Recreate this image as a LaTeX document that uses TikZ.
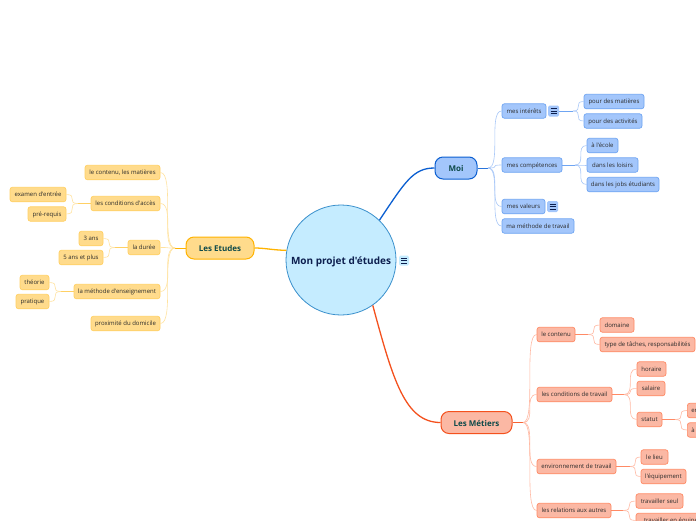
\documentclass[tikz,border=0pt]{standalone}
\usepackage{fontspec}
\setmainfont{Open Sans}[Ligatures=TeXOff]
\usetikzlibrary{calc}
\definecolor{rootfill}{HTML}{C5ECFF}\definecolor{rootline}{HTML}{3A90CC}\definecolor{rootink}{HTML}{0D1F4F}
\definecolor{bfill}{HTML}{A3C6FB}\definecolor{bline}{HTML}{0B5FD1}\definecolor{bsoft}{HTML}{6FA5F2}\definecolor{bpale}{HTML}{A9C8F8}
\definecolor{ofill}{HTML}{FFDB8C}\definecolor{oline}{HTML}{FFB300}\definecolor{osoft}{HTML}{FFD064}\definecolor{opale}{HTML}{FFE3A0}
\definecolor{rfill}{HTML}{FBB8A4}\definecolor{rline}{HTML}{F4511E}\definecolor{rsoft}{HTML}{FF8A65}\definecolor{rpale}{HTML}{FFB9A3}
\definecolor{kidink}{HTML}{2B2B2B}\definecolor{mainink}{HTML}{0E4A4A}
\tikzset{
  box/.style={rounded corners=2.5pt,line width=.7pt,inner sep=0pt,text=kidink,font=\fontsize{6}{7}\selectfont,anchor=center,minimum height=14.5pt,text height=6pt,text depth=1.5pt},
  bk/.style={box,fill=bfill,draw=bsoft},
  ok/.style={box,fill=ofill,draw=osoft},
  rk/.style={box,fill=rfill,draw=rsoft},
  mainb/.style={rounded corners=8pt,line width=1pt,inner sep=0pt,text=mainink,font=\fontsize{8}{9}\selectfont\bfseries,minimum height=22pt,text height=7pt,text depth=0pt},
  ic/.style={rounded corners=1.5pt,minimum width=11pt,minimum height=11pt,inner sep=0pt},
  lk/.style={line width=.6pt},
  st/.style={line width=1pt},
  main/.style={line width=1.3pt},
}
% name, style, x1, x2, yc, text
\newcommand{\bx}[6]{\pgfmathsetmacro{\mycx}{(#3+#4)/2}\pgfmathsetmacro{\mywd}{#4-#3}%
  \node[#2,minimum width=\mywd pt] (#1) at (\mycx,#5) {#6};}
% S-shaped link from junction to a node border point
\newcommand{\lnk}[3]{\draw[lk,#1] (#2) .. controls (#2 -| #3) and (#3 -| #2) .. (#3);}
\newcommand{\menu}[2]{\draw[line width=.6pt,rootink] ($(#1)+(-#2,-2.5)$)--($(#1)+(#2,-2.5)$) ($(#1)+(-#2,0)$)--($(#1)+(#2,0)$) ($(#1)+(-#2,2.5)$)--($(#1)+(#2,2.5)$);}
\begin{document}
\begin{tikzpicture}[x=1pt,y=-1pt]
\useasboundingbox (0,0) rectangle (696,520);
\clip (0,0) rectangle (696,520);
\fill[white] (0,0) rectangle (696,520);
% root
\node[circle,fill=rootfill,draw=rootline,line width=.8pt,minimum size=110pt,inner sep=0pt,text=rootink,font=\fontsize{10}{12}\selectfont\bfseries,text height=8.5pt,text depth=0.5pt] (root) at (341,260) {Mon projet d'études};
\node[ic,fill=rootfill,minimum width=10pt,minimum height=10pt] (rootic) at (404,260.5) {};
\menu{rootic}{3}
% main branches
\bx{moi}{mainb,fill=bfill,draw=bline}{435}{477}{168}{Moi}
\bx{etu}{mainb,fill=ofill,draw=oline}{186}{254}{248}{Les Etudes}
\bx{met}{mainb,fill=rfill,draw=rline}{441}{512}{422.5}{Les Métiers}
\draw[main,bline] (root.46) .. controls (405,182) and (413,168) .. (moi.west);
\draw[main,oline] (root.170) .. controls (272,250) and (265,248) .. (etu.east);
\draw[main,rline] (root.-55) .. controls (393,380) and (405,422.5) .. (met.west);
% Moi
\bx{mi}{bk}{502}{546}{111}{mes intérêts}
\node[ic,fill=bfill] (miic) at (553.5,111) {};\menu{miic}{3}
\bx{mc}{bk}{502}{562}{165}{mes compétences}
\bx{mv}{bk}{502}{545}{206.5}{mes valeurs}
\node[ic,fill=bfill] (mvic) at (552.5,206.5) {};\menu{mvic}{3}
\bx{mm}{bk}{502}{574}{226}{ma méthode de travail}
\bx{pm}{bk}{584}{644}{101.5}{pour des matières}
\bx{pa}{bk}{584}{642}{121}{pour des activités}
\bx{ae}{bk}{587}{618}{145.5}{à l'école}
\bx{dl}{bk}{587}{638}{165}{dans les loisirs}
\bx{dj}{bk}{587}{659}{184.5}{dans les jobs étudiants}
\coordinate (jm) at (488,168);
\coordinate (jmi) at (573,111);
\coordinate (jmc) at (575,165);
\draw[st,bline!70!bsoft] (moi.east)--(jm);
\foreach \c in {mi,mc,mv,mm}{\lnk{bpale}{jm}{\c.west}}
\draw[st,bsoft] (miic.east)--(jmi);
\draw[st,bsoft] (mc.east)--(jmc);
\lnk{bpale}{jmi}{pm.west}\lnk{bpale}{jmi}{pa.west}
\lnk{bpale}{jmc}{ae.west}\lnk{bpale}{jmc}{dl.west}\lnk{bpale}{jmc}{dj.west}
% Etudes
\bx{ec}{ok}{85}{160}{172.5}{le contenu, les matières}
\bx{ea}{ok}{91}{160}{203.5}{les conditions d'accès}
\bx{ex}{ok}{10}{66}{194.5}{examen d'entrée}
\bx{pr}{ok}{28}{66}{214}{pré-requis}
\bx{ed}{ok}{128}{160}{247.5}{la durée}
\bx{an}{ok}{79}{103}{238.5}{3 ans}
\bx{ap}{ok}{59}{103}{257.5}{5 ans et plus}
\bx{em}{ok}{74}{160}{291.5}{la méthode d'enseignement}
\bx{th}{ok}{20}{49}{282.5}{théorie}
\bx{pt}{ok}{16}{49}{301.5}{pratique}
\bx{ep}{ok}{91}{160}{323.5}{proximité du domicile}
\coordinate (je) at (175,248);
\coordinate (jea) at (78,203.5);
\coordinate (jed) at (115,247.5);
\coordinate (jem) at (61,291.5);
\draw[st,oline] (etu.west)--(je);
\foreach \c in {ec,ea,ed,em,ep}{\lnk{opale}{je}{\c.east}}
\draw[st,osoft] (ea.west)--(jea);
\draw[st,osoft] (ed.west)--(jed);
\draw[st,osoft] (em.west)--(jem);
\lnk{opale}{jea}{ex.east}\lnk{opale}{jea}{pr.east}
\lnk{opale}{jed}{an.east}\lnk{opale}{jed}{ap.east}
\lnk{opale}{jem}{th.east}\lnk{opale}{jem}{pt.east}
% Metiers
\bx{rc}{rk}{537}{575}{334.5}{le contenu}
\bx{do}{rk}{600}{634}{325}{domaine}
\bx{ty}{rk}{600}{695}{344.5}{type de tâches, responsabilités}
\bx{rt}{rk}{537}{612}{394.5}{les conditions de travail}
\bx{ho}{rk}{637}{666}{369}{horaire}
\bx{sa}{rk}{637}{665}{388.5}{salaire}
\bx{su}{rk}{637}{662}{419.5}{statut}
\node[rk,anchor=west,align=left,text width=54pt,inner xsep=4pt,minimum height=14.5pt] (s1) at (687,410.5) {en};
\node[rk,anchor=west,align=left,text width=54pt,inner xsep=4pt,minimum height=14.5pt] (s2) at (687,430) {à};
\bx{re}{rk}{537}{616}{466.5}{environnement de travail}
\bx{li}{rk}{641}{668}{457}{le lieu}
\bx{eq}{rk}{641}{686}{476.5}{l'équipement}
\bx{rr}{rk}{537}{611}{510.5}{les relations aux autres}
\bx{ts}{rk}{636}{683}{501}{travailler seul}
\bx{tq}{rk}{636}{706}{520.5}{travailler en équipe}
\coordinate (jr) at (523,422.5);
\coordinate (jrc) at (588,334.5);
\coordinate (jrt) at (624,394.5);
\coordinate (jsu) at (675,419.5);
\coordinate (jre) at (630,466.5);
\coordinate (jrr) at (623,510.5);
\draw[st,rline!70!rsoft] (met.east)--(jr);
\foreach \c in {rc,rt,re,rr}{\lnk{rpale}{jr}{\c.west}}
\draw[st,rsoft] (rc.east)--(jrc);
\draw[st,rsoft] (rt.east)--(jrt);
\draw[st,rsoft] (su.east)--(jsu);
\draw[st,rsoft] (re.east)--(jre);
\draw[st,rsoft] (rr.east)--(jrr);
\lnk{rpale}{jrc}{do.west}\lnk{rpale}{jrc}{ty.west}
\lnk{rpale}{jrt}{ho.west}\lnk{rpale}{jrt}{sa.west}\lnk{rpale}{jrt}{su.west}
\lnk{rpale}{jsu}{s1.west}\lnk{rpale}{jsu}{s2.west}
\lnk{rpale}{jre}{li.west}\lnk{rpale}{jre}{eq.west}
\lnk{rpale}{jrr}{ts.west}\lnk{rpale}{jrr}{tq.west}
\end{tikzpicture}
\end{document}
